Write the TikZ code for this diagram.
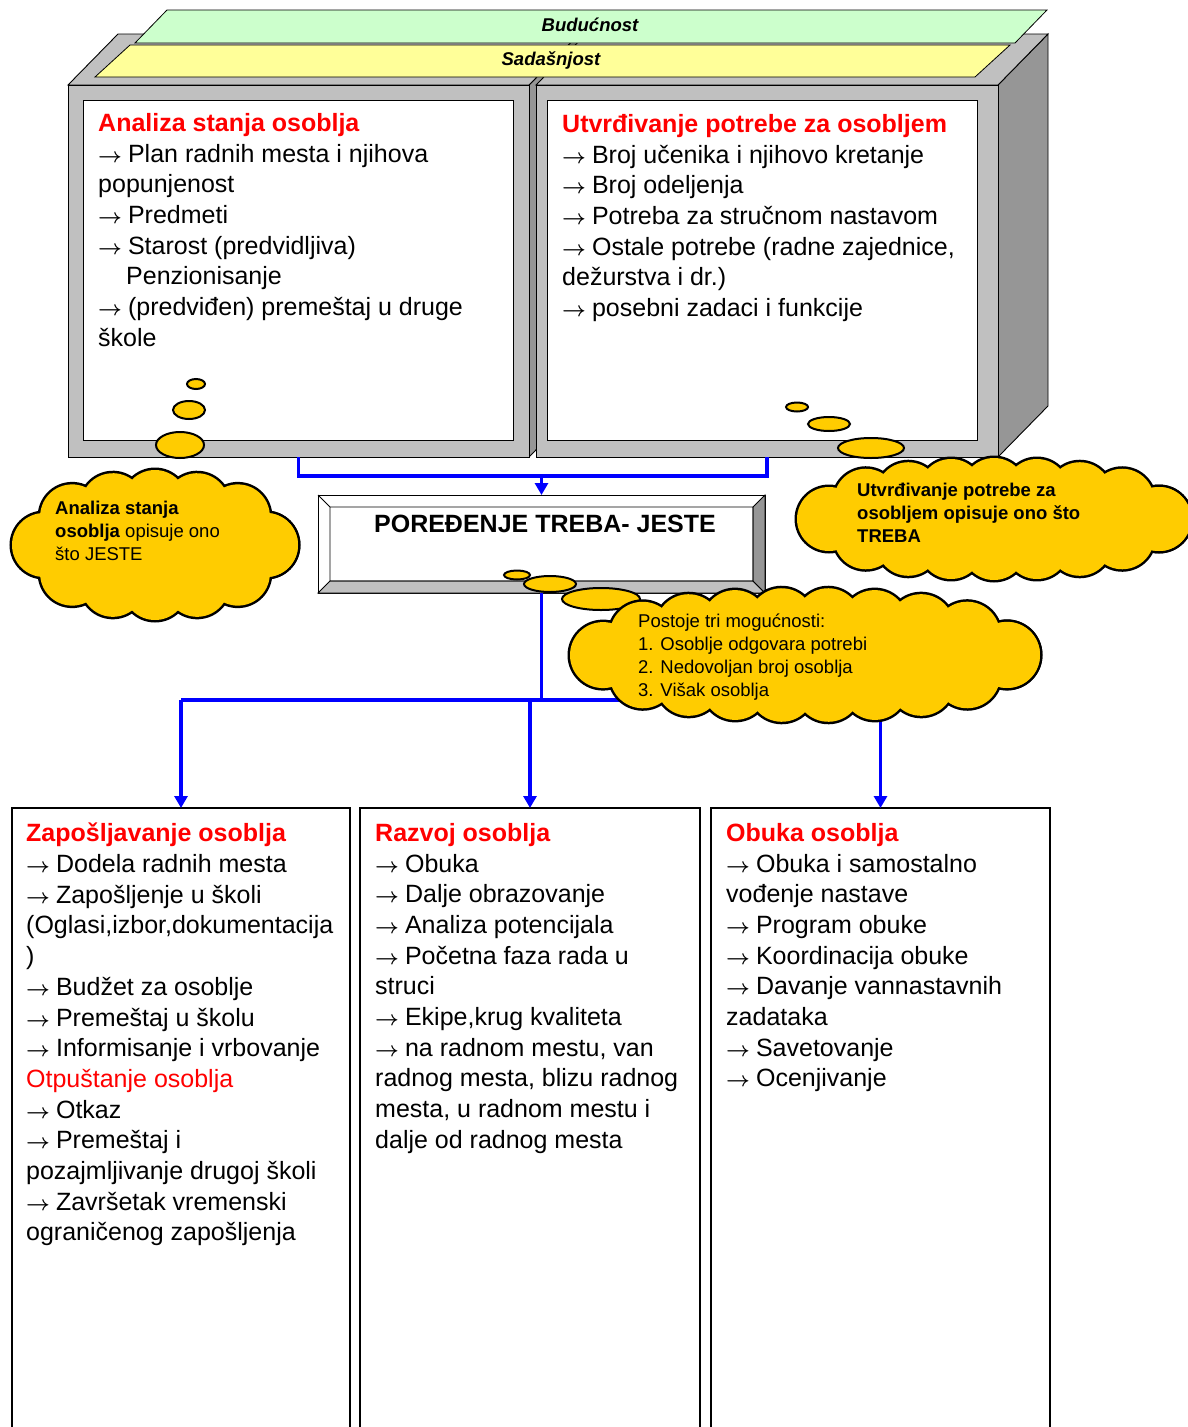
\documentclass[tikz,border=0pt]{standalone}
\usepackage{fontspec}
\setmainfont{Liberation Sans}
\usetikzlibrary{decorations.markings,arrows.meta,positioning,calc}

\definecolor{facegray}{HTML}{C0C0C0}
\definecolor{sidegray}{HTML}{969696}
\definecolor{thinkyellow}{HTML}{FFCC00}
\definecolor{futuregreen}{HTML}{CCFFCC}
\definecolor{nowyellow}{HTML}{FFFF99}
\definecolor{headred}{HTML}{FF0000}

\newcommand{\toarrow}{{\fontsize{20.5}{20.5}\selectfont\boldmath$\rightarrow$}\hspace{6pt}}
\newcommand{\heading}[1]{{\color{headred}\bfseries #1}}
% cloud: centre x, centre y, x radius, y radius, puff radius, number of puffs
\newcommand{\puffcloud}[6]{%
  \path[decorate, decoration={markings, mark=between positions 0 and 1 step 1/#6 with {\draw[line width=5pt] (0,0) circle [radius=#5];}}]
    (#1,#2) ellipse [x radius=#3, y radius=#4];
  \path[decorate, decoration={markings, mark=between positions 0 and 1 step 1/#6 with {\fill[thinkyellow] (0,0) circle [radius=#5];}}]
    (#1,#2) ellipse [x radius=#3, y radius=#4];
  \fill[thinkyellow] (#1,#2) ellipse [x radius=#3, y radius=#4];
}

\tikzset{
  face/.style={draw=black, line width=0.9pt, fill=facegray},
  side/.style={draw=black, line width=0.9pt, fill=sidegray},
  pane/.style={draw=black, line width=0.9pt, fill=white, inner sep=0pt, outer sep=0pt, anchor=north west},
  banner/.style={draw=black, line width=0.8pt},
  bannertext/.style={font=\fontsize{18.5}{20}\selectfont\bfseries\itshape},
  bodytext/.style={anchor=north west, inner sep=0pt, align=left, font=\fontsize{25}{30.7}\selectfont},
  thinktext/.style={anchor=north west, inner sep=0pt, align=left, font=\fontsize{18.5}{23}\selectfont},
  bubble/.style={draw=black, line width=2pt, fill=thinkyellow},
  lowbox/.style={draw=black, line width=1.2pt, fill=white, anchor=north west, inner sep=0pt, outer sep=0pt, minimum height=640pt},
  link/.style={draw=blue, line width=3.5pt},
  linkarrow/.style={link, -{Triangle[width=13pt,length=12pt]}}
}

\begin{document}
\begin{tikzpicture}[x=1pt,y=-1pt]
\useasboundingbox (0,0) rectangle (1188,1427);

% left block (what is)
\draw[side] (529,85) -- (579,34) -- (579,406) -- (529,457) -- cycle;
\draw[face] (68,85) -- (118,34) -- (579,34) -- (529,85) -- cycle;
\node[face, anchor=north west, inner sep=0pt, outer sep=0pt, minimum width=461pt, minimum height=372pt] (jeste) at (68,85) {};
\node[pane, minimum width=430pt, minimum height=340pt] (jestePane) at (83,100) {};

% right block (what is needed)
\draw[side] (998,85) -- (1048,34) -- (1048,406) -- (998,457) -- cycle;
\draw[face] (536,85) -- (586,34) -- (1048,34) -- (998,85) -- cycle;
\node[face, anchor=north west, inner sep=0pt, outer sep=0pt, minimum width=462pt, minimum height=372pt] (treba) at (536,85) {};
\node[pane, minimum width=430pt, minimum height=340pt] (trebaPane) at (547,100) {};

% banners on top
\draw[banner, fill=futuregreen] (135,43) -- (167,10) -- (1047,10) -- (1015,43) -- cycle;
\node[bannertext] (future) at (590,25) {Budućnost};
\draw[banner, fill=nowyellow] (95,77) -- (130,45) -- (1010,45) -- (975,77) -- cycle;
\node[bannertext] (present) at (551,61) {Sadašnjost};

\node[bodytext] (jesteText) at (98,113) {\heading{Analiza stanja osoblja}\\
  \toarrow Plan radnih mesta i njihova\\
  popunjenost\\
  \toarrow Predmeti\\
  \toarrow Starost (predvidljiva)\\
  \hspace*{28pt}Penzionisanje\\
  \toarrow (predviđen) premeštaj u druge\\
  škole};
\node[bodytext] (trebaText) at (562,114) {\heading{Utvrđivanje potrebe za osobljem}\\
  \toarrow Broj učenika i njihovo kretanje\\
  \toarrow Broj odeljenja\\
  \toarrow Potreba za stručnom nastavom\\
  \toarrow Ostale potrebe (radne zajednice,\\
  dežurstva i dr.)\\
  \toarrow posebni zadaci i funkcije};

% comparison box with bevel
\node[draw=black, line width=0.9pt, fill=white, inner sep=0pt, outer sep=0pt, minimum width=447pt, minimum height=98pt] (cmp) at (541.5,544) {};
\coordinate (cmpA) at ($(cmp.north west)+(12,12)$);
\coordinate (cmpB) at ($(cmp.south east)+(-12,-12)$);
\draw[face] (cmp.south west) -- (cmpA |- cmpB) -- (cmpB) -- (cmp.south east) -- cycle;
\draw[side] (cmp.north east) -- (cmpB |- cmpA) -- (cmpB) -- (cmp.south east) -- cycle;
\draw[line width=0.9pt] (cmp.north west) -- (cmpA) rectangle (cmpB);
\node[font=\fontsize{25}{30}\selectfont\bfseries] (cmpText) at (545,524) {POREĐENJE TREBA- JESTE};

% lower boxes
\node[lowbox, minimum width=338pt] (zap) at (12,808) {};
\node[lowbox, minimum width=340pt] (razvoj) at (360,808) {};
\node[lowbox, minimum width=339pt] (obuka) at (711,808) {};

\node[bodytext] (zapText) at (26,823) {\heading{Zapošljavanje osoblja}\\
  \toarrow Dodela radnih mesta\\
  \toarrow Zapošljenje u školi\\
  (Oglasi,izbor,dokumentacija\\
  )\\
  \toarrow Budžet za osoblje\\
  \toarrow Premeštaj u školu\\
  \toarrow Informisanje i vrbovanje\\
  {\color{headred}Otpuštanje osoblja}\\
  \toarrow Otkaz\\
  \toarrow Premeštaj i\\
  pozajmljivanje drugoj školi\\
  \toarrow Završetak vremenski\\
  ograničenog zapošljenja};
\node[bodytext] (razvojText) at (375,823) {\heading{Razvoj osoblja}\\
  \toarrow Obuka\\
  \toarrow Dalje obrazovanje\\
  \toarrow Analiza potencijala\\
  \toarrow Početna faza rada u\\
  struci\\
  \toarrow Ekipe,krug kvaliteta\\
  \toarrow na radnom mestu, van\\
  radnog mesta, blizu radnog\\
  mesta, u radnom mestu i\\
  dalje od radnog mesta};
\node[bodytext] (obukaText) at (726,823) {\heading{Obuka osoblja}\\
  \toarrow Obuka i samostalno\\
  vođenje nastave\\
  \toarrow Program obuke\\
  \toarrow Koordinacija obuke\\
  \toarrow Davanje vannastavnih\\
  zadataka\\
  \toarrow Savetovanje\\
  \toarrow Ocenjivanje};

% connectors
\draw[link] (jeste.south) -- ++(0,19) coordinate (meet) -| (treba.south);
\draw[linkarrow] (cmp.north |- meet) -- (cmp.north);
\draw[link] (cmp.south) -- (cmp.south |- 0,700) coordinate (split);
\draw[link] (zap.north |- split) -- (obuka.north |- split);
\draw[linkarrow] (zap.north |- split) -- (zap.north);
\draw[linkarrow] (razvoj.north |- split) -- (razvoj.north);
\draw[linkarrow] (obuka.north |- split) -- (obuka.north);

% thought bubbles
\draw[bubble] (196,384) ellipse [x radius=9, y radius=5];
\draw[bubble] (189,410) ellipse [x radius=16, y radius=9];
\draw[bubble] (180,445) ellipse [x radius=24, y radius=13];
\draw[bubble] (797,407) ellipse [x radius=11, y radius=4.5];
\draw[bubble] (829,424) ellipse [x radius=21, y radius=7];
\draw[bubble] (871,448) ellipse [x radius=33, y radius=10];
\draw[bubble] (517,575) ellipse [x radius=13, y radius=4.5];
\draw[bubble] (550,584) ellipse [x radius=26, y radius=8];
\draw[bubble] (601,599) ellipse [x radius=39, y radius=11];

% clouds
\puffcloud{155}{545}{111}{43}{32}{12}
\node[thinktext] (jesteNote) at (55,501) {\textbf{Analiza stanja}\\
  \textbf{osoblja} opisuje ono\\
  što JESTE};
\puffcloud{994}{519}{165}{29}{32}{16}
\node[thinktext, font=\fontsize{18.5}{23}\selectfont\bfseries] (trebaNote) at (857,483) {Utvrđivanje potrebe za\\
  osobljem opisuje ono što\\
  TREBA};
\puffcloud{805}{655}{202}{34}{33}{18}
\node[thinktext] (cmpNote) at (638,614) {Postoje tri mogućnosti:\\
  1. Osoblje odgovara potrebi\\
  2. Nedovoljan broj osoblja\\
  3. Višak osoblja};
\end{tikzpicture}
\end{document}
